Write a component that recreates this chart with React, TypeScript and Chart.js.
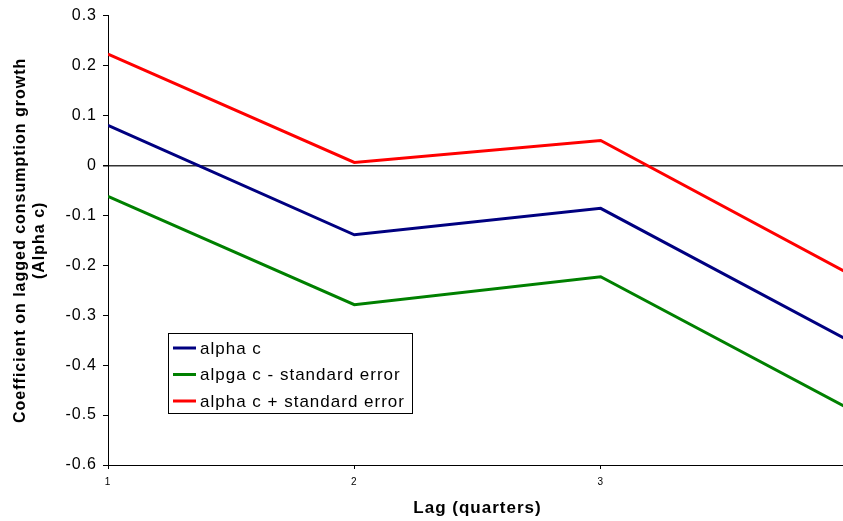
import React, { useEffect, useRef } from "react";
import { Chart, registerables } from "chart.js";

Chart.register(...registerables);

const lags = [1, 2, 3, 4];
const alphaC = [0.08, -0.139, -0.086, -0.349];
const alphaMinusSE = [-0.062, -0.279, -0.223, -0.485];
const alphaPlusSE = [0.223, 0.006, 0.05, -0.215];
const xTickValues = [1, 2, 3];
const seriesNames = ["alpha c", "alpga c - standard error", "alpha c + standard error"];
const seriesColors = ["#000080", "#008000", "#FF0000"];

const FONT = "'Liberation Sans', Arial, sans-serif";

const spacingPlugin = {
  id: "spacing",
  beforeLayout(chart: any) {
    chart.ctx.letterSpacing = "1px";
  },
  beforeDraw(chart: any) {
    chart.ctx.letterSpacing = "1px";
  },
};

const legendPlugin = {
  id: "boxLegend",
  afterDraw(chart: any) {
    const ctx = chart.ctx;
    const x0 = 168, y0 = 333, w = 244, h = 80;
    ctx.save();
    ctx.letterSpacing = "1px";
    ctx.fillStyle = "#fff";
    ctx.fillRect(x0, y0, w, h);
    ctx.strokeStyle = "#000";
    ctx.lineWidth = 1;
    ctx.strokeRect(x0 + 0.5, y0 + 0.5, w, h);
    ctx.font = `17px ${FONT}`;
    ctx.textBaseline = "middle";
    chart.data.datasets.forEach((ds: any, i: number) => {
      const cy = y0 + 15 + i * 26.5;
      ctx.strokeStyle = ds.borderColor;
      ctx.lineWidth = 3;
      ctx.beginPath();
      ctx.moveTo(x0 + 5, cy);
      ctx.lineTo(x0 + 28, cy);
      ctx.stroke();
      ctx.fillStyle = "#000";
      ctx.fillText(ds.label, x0 + 32, cy + 1);
    });
    ctx.restore();
  },
};

export default function App() {
  const ref = useRef<HTMLCanvasElement>(null);
  useEffect(() => {
    const mk = (vals: number[]) => lags.map((x, i) => ({ x, y: vals[i] }));
    const datasets = [alphaC, alphaMinusSE, alphaPlusSE].map((vals, i) => ({
      label: seriesNames[i],
      data: mk(vals),
      borderColor: seriesColors[i],
      backgroundColor: seriesColors[i],
      borderWidth: 3,
      pointRadius: 0,
      tension: 0,
    }));
    const chart = new Chart(ref.current!, {
      type: "line",
      data: { datasets },
      plugins: [spacingPlugin, legendPlugin],
      options: {
        animation: false,
        responsive: false,
        layout: { padding: { top: 9, right: 0, left: 0, bottom: 0 } },
        plugins: { legend: { display: false }, tooltip: { enabled: false } },
        scales: {
          x: {
            type: "linear",
            min: 1,
            max: 4,
            afterBuildTicks: (scale: any) => {
              scale.ticks = xTickValues.map((v) => ({ value: v }));
            },
            afterFit: (scale: any) => {
              scale.height = 56;
            },
            ticks: {
              color: "#000",
              font: { family: FONT, size: 10 },
              padding: 7,
              maxRotation: 0,
              autoSkip: false,
            },
            grid: { display: true, drawOnChartArea: false, color: "#000", tickLength: 4 },
            border: { display: true, color: "#000", width: 1 },
            title: {
              display: true,
              text: "Lag (quarters)",
              color: "#000",
              font: { family: FONT, size: 17, weight: "bold" },
              padding: { top: 4, bottom: 2 },
            },
          },
          y: {
            min: -0.6,
            max: 0.3,
            afterFit: (scale: any) => {
              scale.width = 108;
            },
            ticks: {
              stepSize: 0.1,
              color: "#000",
              font: { family: FONT, size: 16 },
              padding: 6,
              callback: (v: any) => {
                const n = Math.round(Number(v) * 10) / 10;
                return n === 0 ? "0" : n.toFixed(1);
              },
            },
            grid: {
              display: true,
              drawOnChartArea: true,
              color: (c: any) => (c.tick && Math.abs(c.tick.value) < 1e-9 ? "#333" : "rgba(0,0,0,0)"),
              lineWidth: (c: any) => (c.tick && Math.abs(c.tick.value) < 1e-9 ? 1.5 : 1),
              tickColor: "#000",
              tickLength: 5,
            },
            border: { display: true, color: "#000", width: 1 },
            title: {
              display: true,
              text: ["Coefficient on lagged consumption growth", "(Alpha c)"],
              color: "#000",
              font: { family: FONT, size: 16, weight: "bold" },
              padding: { top: 11, bottom: 4 },
            },
          },
        },
      } as any,
    });
    return () => chart.destroy();
  }, []);
  return (
    <div style={{ position: "absolute", left: 0, top: 0, width: 843, height: 521, overflow: "hidden", background: "#fff" }}>
      <canvas ref={ref} width={847} height={521} style={{ display: "block" }} />
    </div>
  );
}
